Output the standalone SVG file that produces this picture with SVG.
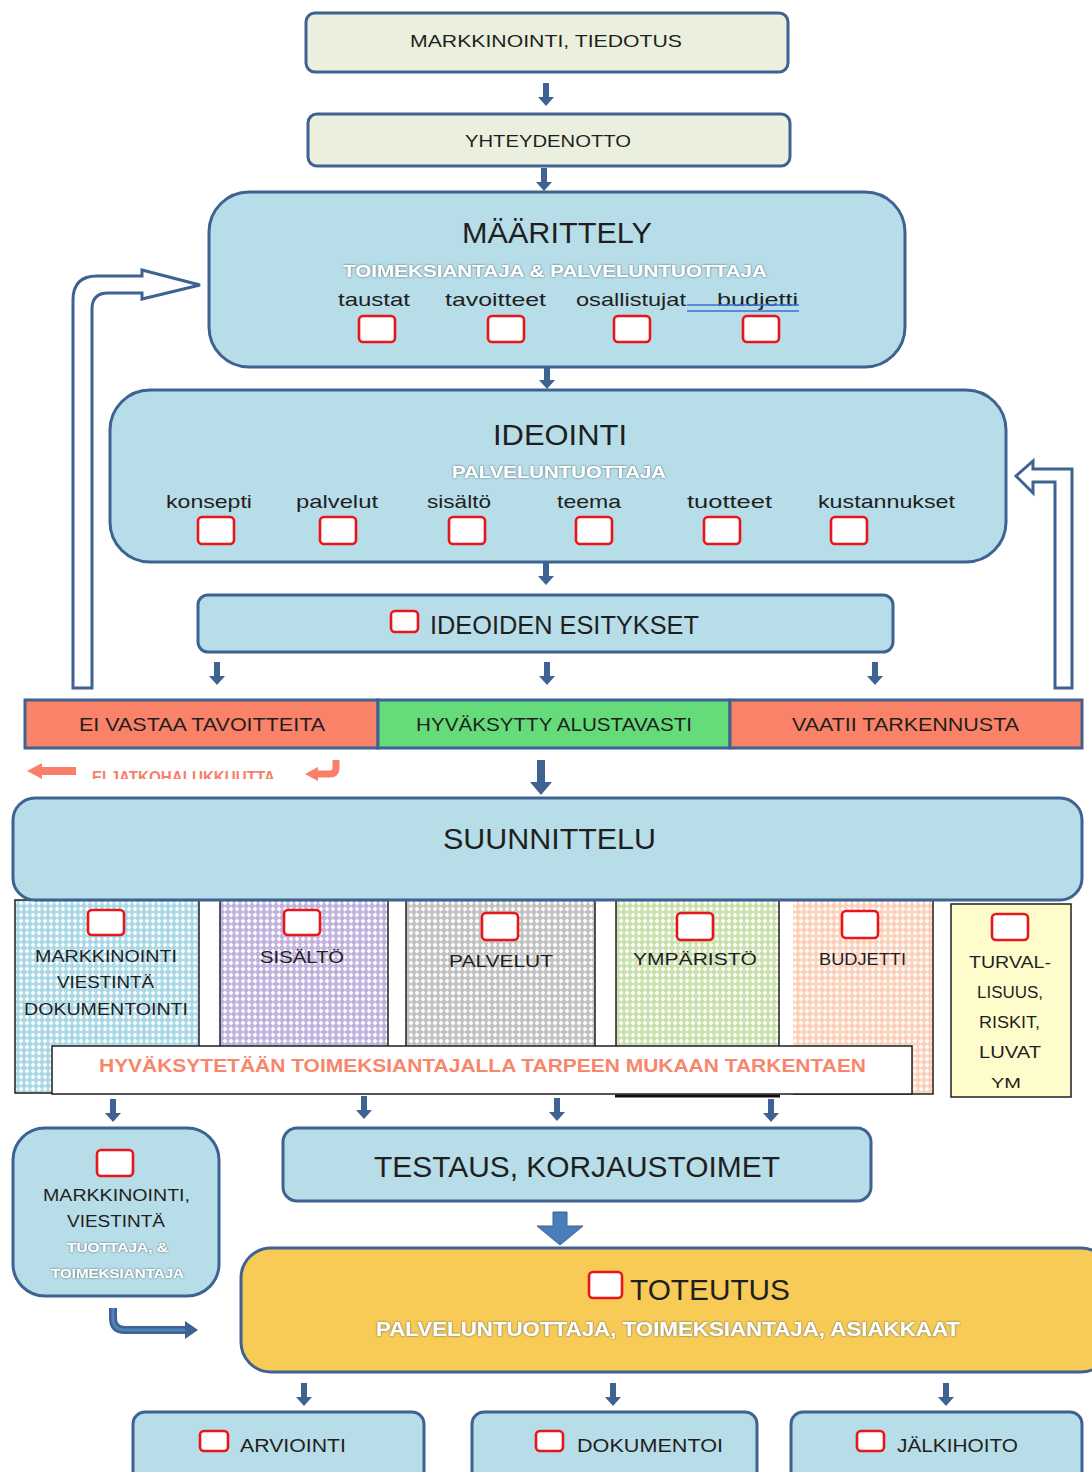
<svg xmlns="http://www.w3.org/2000/svg" width="1092" height="1472" viewBox="0 0 1092 1472">
  <style>
    .t{font-family:"Liberation Sans",Arial,sans-serif;fill:#1f1f1f}
    .bx{fill:#b7dde8;stroke:#3e6291;stroke-width:3}
    .top{fill:#ebf0de;stroke:#3e6291;stroke-width:3}
    .cb{fill:#fff;stroke:#e8161b;stroke-width:2.6}
    .sub{fill:#fff;font-weight:bold;filter:url(#glow)}
    .arr{fill:#3e6291}
    .cell{stroke:#1f1f1f;stroke-width:1.5}
    .hollow{fill:#fff;stroke:#3e6291;stroke-width:3;stroke-linejoin:miter}
  </style>
  <defs>
    <filter id="glow" x="-5%" y="-40%" width="110%" height="180%">
      <feGaussianBlur in="SourceAlpha" stdDeviation="1.3" result="b"/>
      <feFlood flood-color="#4f6166" flood-opacity="1"/>
      <feComposite in2="b" operator="in" result="s"/>
      <feMerge><feMergeNode in="s"/><feMergeNode in="SourceGraphic"/></feMerge>
    </filter>
    <path id="dn" d="M-3,0 h6 v14 h5 l-8,9 l-8,-9 h5 z"/>
    <pattern id="pBlue" width="6" height="6" patternUnits="userSpaceOnUse"><rect width="6" height="6" fill="#a9d9e6"/><path d="M3,0.6 L5.4,3 L3,5.4 L0.6,3Z" fill="#fff"/></pattern>
    <pattern id="pPurple" width="6" height="6" patternUnits="userSpaceOnUse"><rect width="6" height="6" fill="#c1b3de"/><path d="M3,0.6 L5.4,3 L3,5.4 L0.6,3Z" fill="#fff"/></pattern>
    <pattern id="pGray" width="6" height="6" patternUnits="userSpaceOnUse"><rect width="6" height="6" fill="#c2c2c2"/><path d="M3,0.6 L5.4,3 L3,5.4 L0.6,3Z" fill="#fff"/></pattern>
    <pattern id="pGreen" width="6" height="6" patternUnits="userSpaceOnUse"><rect width="6" height="6" fill="#c8e0aa"/><path d="M3,0.6 L5.4,3 L3,5.4 L0.6,3Z" fill="#fff"/></pattern>
    <pattern id="pPeach" width="6" height="6" patternUnits="userSpaceOnUse"><rect width="6" height="6" fill="#fcd0b8"/><path d="M3,0.6 L5.4,3 L3,5.4 L0.6,3Z" fill="#fff"/></pattern>
    <clipPath id="clipHalf"><rect x="80" y="760" width="210" height="19"/></clipPath>
    <clipPath id="clipYM"><rect x="952" y="1060" width="118" height="35"/></clipPath>
  </defs>

  <rect width="1092" height="1472" fill="#fff"/>

  <!-- connectors -->
  <g id="connectors">
    <use href="#dn" class="arr" x="546" y="83"/>
    <use href="#dn" class="arr" x="544" y="168"/>
    <use href="#dn" class="arr" x="547" y="366"/>
    <use href="#dn" class="arr" x="546" y="562"/>
    <use href="#dn" class="arr" x="217" y="662"/>
    <use href="#dn" class="arr" x="547" y="662"/>
    <use href="#dn" class="arr" x="875" y="662"/>
    <!-- into planning -->
    <path class="arr" d="M537,760 h8 v22 h7 l-11,13 l-11,-13 h7 z"/>
    <use href="#dn" class="arr" x="113" y="1099"/>
    <use href="#dn" class="arr" x="364" y="1096"/>
    <use href="#dn" class="arr" x="557" y="1098"/>
    <use href="#dn" class="arr" x="771" y="1099"/>
    <!-- testing to implementation -->
    <path d="M553,1212 h14 v14 h16 l-23,19 l-23,-19 h16 z" fill="#4a7ebb" stroke="#3e6291" stroke-width="1"/>
    <use href="#dn" class="arr" x="304" y="1383"/>
    <use href="#dn" class="arr" x="613" y="1383"/>
    <use href="#dn" class="arr" x="946" y="1383"/>
    <!-- marketing bend to implementation -->
    <path d="M113,1308 V1318 Q113,1330 125,1330 H186" fill="none" stroke="#3e6291" stroke-width="8"/>
    <path d="M113,1308 V1318 Q113,1330 125,1330 H186" fill="none" stroke="#4f81bd" stroke-width="3"/>
    <path d="M185,1321 L198,1330 L185,1339 z" fill="#3e6291"/>
    <!-- feedback loops -->
    <path class="hollow" d="M73,688 V300 Q73,276 97,276 H142 V270 L200,285 L142,299 V293 H108 Q92,293 92,309 V688 Z"/>
    <path class="hollow" d="M1072,688 V469 H1033 V461 L1016,476 L1033,493 V482 H1055 V688 Z"/>
    <!-- red side arrows -->
    <path d="M27,771 L42,763 V767 H76 V775 H42 V779 Z" fill="#f8806a"/>
    <path d="M336,760 V768 Q336,774 330,774 H318" fill="none" stroke="#f8806a" stroke-width="7"/>
    <path d="M318,767 L305,774 L318,781 Z" fill="#f8806a"/>
  </g>

  <g id="markkinointi-tiedotus">
    <rect class="top" x="306" y="13" width="482" height="59" rx="9"/>
    <text class="t" x="546" y="47" font-size="17" text-anchor="middle" textLength="272" lengthAdjust="spacingAndGlyphs">MARKKINOINTI, TIEDOTUS</text>
  </g>

  <g id="yhteydenotto">
    <rect class="top" x="308" y="114" width="482" height="52" rx="9"/>
    <text class="t" x="548" y="147" font-size="17" text-anchor="middle" textLength="166" lengthAdjust="spacingAndGlyphs">YHTEYDENOTTO</text>
  </g>

  <g id="maarittely">
    <rect class="bx" x="209" y="192" width="696" height="175" rx="40"/>
    <text class="t" x="557" y="243" font-size="30" text-anchor="middle" textLength="190" lengthAdjust="spacingAndGlyphs">MÄÄRITTELY</text>
    <text class="t sub" x="555" y="277" font-size="17" text-anchor="middle" textLength="424" lengthAdjust="spacingAndGlyphs">TOIMEKSIANTAJA &amp; PALVELUNTUOTTAJA</text>
    <text class="t" x="374" y="306" font-size="19" text-anchor="middle" textLength="72" lengthAdjust="spacingAndGlyphs">taustat</text>
    <text class="t" x="495.5" y="306" font-size="19" text-anchor="middle" textLength="101" lengthAdjust="spacingAndGlyphs">tavoitteet</text>
    <text class="t" x="631" y="306" font-size="19" text-anchor="middle" textLength="110" lengthAdjust="spacingAndGlyphs">osallistujat</text>
    <text class="t" x="757.5" y="306" font-size="19" text-anchor="middle" textLength="81" lengthAdjust="spacingAndGlyphs">budjetti</text>
    <path d="M687,305 H799 M687,311 H799" stroke="#3b6fd8" stroke-width="1.5" fill="none"/>
    <rect class="cb" x="359" y="316" width="36" height="26" rx="4"/>
    <rect class="cb" x="488" y="316" width="36" height="26" rx="4"/>
    <rect class="cb" x="614" y="316" width="36" height="26" rx="4"/>
    <rect class="cb" x="743" y="316" width="36" height="26" rx="4"/>
  </g>

  <g id="ideointi">
    <rect class="bx" x="110" y="390" width="896" height="172" rx="40"/>
    <text class="t" x="560" y="445" font-size="30" text-anchor="middle" textLength="134" lengthAdjust="spacingAndGlyphs">IDEOINTI</text>
    <text class="t sub" x="559" y="478" font-size="17" text-anchor="middle" textLength="214" lengthAdjust="spacingAndGlyphs">PALVELUNTUOTTAJA</text>
    <text class="t" x="209" y="508" font-size="19" text-anchor="middle" textLength="86" lengthAdjust="spacingAndGlyphs">konsepti</text>
    <text class="t" x="337" y="508" font-size="19" text-anchor="middle" textLength="82" lengthAdjust="spacingAndGlyphs">palvelut</text>
    <text class="t" x="459" y="508" font-size="19" text-anchor="middle" textLength="64" lengthAdjust="spacingAndGlyphs">sisältö</text>
    <text class="t" x="589" y="508" font-size="19" text-anchor="middle" textLength="64" lengthAdjust="spacingAndGlyphs">teema</text>
    <text class="t" x="729.5" y="508" font-size="19" text-anchor="middle" textLength="85" lengthAdjust="spacingAndGlyphs">tuotteet</text>
    <text class="t" x="886.5" y="508" font-size="19" text-anchor="middle" textLength="137" lengthAdjust="spacingAndGlyphs">kustannukset</text>
    <rect class="cb" x="198" y="517" width="36" height="27" rx="4"/>
    <rect class="cb" x="320" y="517" width="36" height="27" rx="4"/>
    <rect class="cb" x="449" y="517" width="36" height="27" rx="4"/>
    <rect class="cb" x="576" y="517" width="36" height="27" rx="4"/>
    <rect class="cb" x="704" y="517" width="36" height="27" rx="4"/>
    <rect class="cb" x="831" y="517" width="36" height="27" rx="4"/>
  </g>

  <g id="ideoiden-esitykset">
    <rect class="bx" x="198" y="595" width="695" height="57" rx="10"/>
    <rect class="cb" x="391" y="611" width="27" height="21" rx="4"/>
    <text class="t" x="430" y="634" font-size="25" textLength="269" lengthAdjust="spacingAndGlyphs">IDEOIDEN ESITYKSET</text>
  </g>

  <g id="paatos">
    <rect x="25" y="700" width="353" height="48" fill="#fa8269" stroke="#3e6291" stroke-width="3"/>
    <rect x="378" y="700" width="352" height="48" fill="#66db79" stroke="#3e6291" stroke-width="3"/>
    <rect x="730" y="700" width="352" height="48" fill="#fa8269" stroke="#3e6291" stroke-width="3"/>
    <text class="t" x="202" y="731" font-size="18" text-anchor="middle" textLength="246" lengthAdjust="spacingAndGlyphs">EI VASTAA TAVOITTEITA</text>
    <text class="t" x="554" y="731" font-size="18" text-anchor="middle" textLength="276" lengthAdjust="spacingAndGlyphs">HYVÄKSYTTY ALUSTAVASTI</text>
    <text class="t" x="905.5" y="731" font-size="18" text-anchor="middle" textLength="227" lengthAdjust="spacingAndGlyphs">VAATII TARKENNUSTA</text>
    <text class="t" x="92" y="783" font-size="16" font-weight="bold" style="fill:#f8806a" clip-path="url(#clipHalf)" textLength="183" lengthAdjust="spacingAndGlyphs">EI JATKOHALUKKUUTTA</text>
  </g>

  <g id="suunnittelu-osat">
    <rect class="cell" x="15" y="900" width="184" height="193" fill="url(#pBlue)"/>
    <rect class="cell" x="220" y="900" width="168" height="193" fill="url(#pPurple)"/>
    <rect class="cell" x="406" y="900" width="189" height="193" fill="url(#pGray)"/>
    <rect class="cell" x="616" y="900" width="163" height="193" fill="url(#pGreen)"/>
    <rect x="793" y="900" width="140" height="193" fill="url(#pPeach)"/>
    <path d="M933,900 V1094 H793" fill="none" stroke="#1f1f1f" stroke-width="1.5"/>
    <rect class="cell" x="951" y="904" width="120" height="193" fill="#fffccc"/>
    <rect class="cb" x="88" y="910" width="36" height="25" rx="4"/>
    <rect class="cb" x="284" y="910" width="36" height="25" rx="4"/>
    <rect class="cb" x="482" y="913" width="36" height="27" rx="4"/>
    <rect class="cb" x="677" y="913" width="36" height="27" rx="4"/>
    <rect class="cb" x="842" y="911" width="36" height="27" rx="4"/>
    <rect class="cb" x="992" y="914" width="36" height="26" rx="4"/>
    <text class="t" x="106" y="962" font-size="17" text-anchor="middle" textLength="142" lengthAdjust="spacingAndGlyphs">MARKKINOINTI</text>
    <text class="t" x="105.5" y="988" font-size="17" text-anchor="middle" textLength="97" lengthAdjust="spacingAndGlyphs">VIESTINTÄ</text>
    <text class="t" x="106" y="1015" font-size="17" text-anchor="middle" textLength="164" lengthAdjust="spacingAndGlyphs">DOKUMENTOINTI</text>
    <text class="t" x="302" y="963" font-size="17" text-anchor="middle" textLength="84" lengthAdjust="spacingAndGlyphs">SISÄLTÖ</text>
    <text class="t" x="501" y="967" font-size="17" text-anchor="middle" textLength="104" lengthAdjust="spacingAndGlyphs">PALVELUT</text>
    <text class="t" x="695" y="965" font-size="17" text-anchor="middle" textLength="124" lengthAdjust="spacingAndGlyphs">YMPÄRISTÖ</text>
    <text class="t" x="862.5" y="965" font-size="16" text-anchor="middle" textLength="87" lengthAdjust="spacingAndGlyphs">BUDJETTI</text>
    <text class="t" x="1010" y="968" font-size="16" text-anchor="middle" textLength="82" lengthAdjust="spacingAndGlyphs">TURVAL-</text>
    <text class="t" x="1010" y="998" font-size="16" text-anchor="middle" textLength="66" lengthAdjust="spacingAndGlyphs">LISUUS,</text>
    <text class="t" x="1009.5" y="1028" font-size="16" text-anchor="middle" textLength="61" lengthAdjust="spacingAndGlyphs">RISKIT,</text>
    <text class="t" x="1010" y="1058" font-size="16" text-anchor="middle" textLength="62" lengthAdjust="spacingAndGlyphs">LUVAT</text>
    <text class="t" x="1006" y="1088" font-size="14" text-anchor="middle" clip-path="url(#clipYM)" textLength="30" lengthAdjust="spacingAndGlyphs">YM</text>
    <rect x="52" y="1046" width="860" height="48" fill="#fff" stroke="#1f1f1f" stroke-width="1.5"/>
    <path d="M615,1096 H780" stroke="#111" stroke-width="3"/>
    <text class="t" x="482.5" y="1072" font-size="19" font-weight="bold" style="fill:#f7866c" text-anchor="middle" textLength="767" lengthAdjust="spacingAndGlyphs">HYVÄKSYTETÄÄN TOIMEKSIANTAJALLA TARPEEN MUKAAN TARKENTAEN</text>
  </g>

  <g id="suunnittelu">
    <rect class="bx" x="13" y="798" width="1069" height="102" rx="22"/>
    <text class="t" x="549.5" y="849" font-size="30" text-anchor="middle" textLength="213" lengthAdjust="spacingAndGlyphs">SUUNNITTELU</text>
  </g>

  <g id="markkinointi-viestinta">
    <rect class="bx" x="13" y="1128" width="206" height="168" rx="32"/>
    <rect class="cb" x="97" y="1150" width="36" height="26" rx="4"/>
    <text class="t" x="116.5" y="1201" font-size="16" text-anchor="middle" textLength="147" lengthAdjust="spacingAndGlyphs">MARKKINOINTI,</text>
    <text class="t" x="116" y="1227" font-size="16" text-anchor="middle" textLength="98" lengthAdjust="spacingAndGlyphs">VIESTINTÄ</text>
    <text class="t sub" x="117.5" y="1252" font-size="13" text-anchor="middle" textLength="101" lengthAdjust="spacingAndGlyphs">TUOTTAJA, &amp;</text>
    <text class="t sub" x="117.5" y="1278" font-size="13" text-anchor="middle" textLength="133" lengthAdjust="spacingAndGlyphs">TOIMEKSIANTAJA</text>
  </g>

  <g id="testaus">
    <rect class="bx" x="283" y="1128" width="588" height="73" rx="14"/>
    <text class="t" x="577" y="1177" font-size="30" text-anchor="middle" textLength="406" lengthAdjust="spacingAndGlyphs">TESTAUS, KORJAUSTOIMET</text>
  </g>

  <g id="toteutus">
    <rect x="241" y="1248" width="870" height="124" rx="30" fill="#f7cb55" stroke="#3e6291" stroke-width="3"/>
    <rect class="cb" x="589" y="1272" width="33" height="26" rx="4"/>
    <text class="t" x="630" y="1300" font-size="30" textLength="160" lengthAdjust="spacingAndGlyphs">TOTEUTUS</text>
    <text class="t sub" x="668" y="1336" font-size="20" text-anchor="middle" textLength="584" lengthAdjust="spacingAndGlyphs">PALVELUNTUOTTAJA, TOIMEKSIANTAJA, ASIAKKAAT</text>
  </g>

  <g id="arviointi">
    <rect class="bx" x="133" y="1412" width="291" height="80" rx="12"/>
    <rect class="cb" x="200" y="1431" width="28" height="20" rx="4"/>
    <text class="t" x="240" y="1452" font-size="19" textLength="106" lengthAdjust="spacingAndGlyphs">ARVIOINTI</text>
  </g>

  <g id="dokumentoi">
    <rect class="bx" x="472" y="1412" width="285" height="80" rx="12"/>
    <rect class="cb" x="536" y="1431" width="27" height="20" rx="4"/>
    <text class="t" x="577" y="1452" font-size="19" textLength="146" lengthAdjust="spacingAndGlyphs">DOKUMENTOI</text>
  </g>

  <g id="jalkihoito">
    <rect class="bx" x="791" y="1412" width="291" height="80" rx="12"/>
    <rect class="cb" x="857" y="1431" width="27" height="20" rx="4"/>
    <text class="t" x="897" y="1452" font-size="19" textLength="121" lengthAdjust="spacingAndGlyphs">JÄLKIHOITO</text>
  </g>
</svg>
